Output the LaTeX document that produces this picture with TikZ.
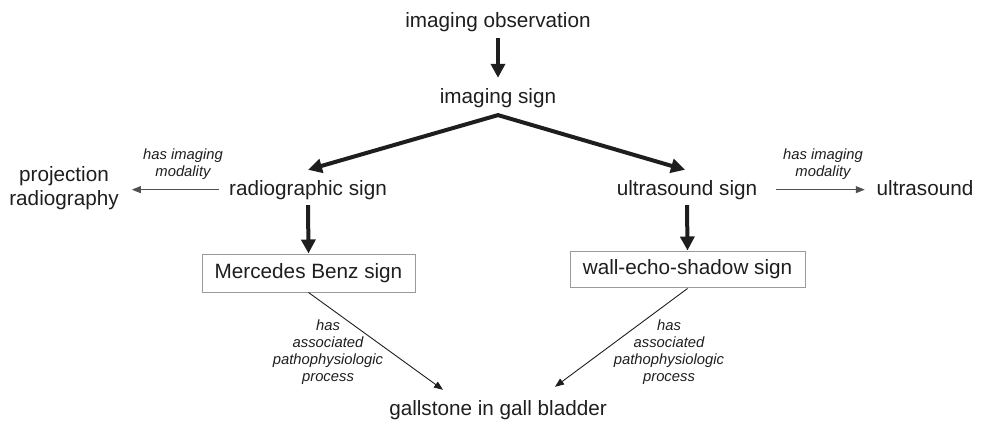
\documentclass[tikz,border=0pt]{standalone}
\usepackage{fontspec}
\setmainfont{Liberation Sans}
\usetikzlibrary{arrows.meta,calc}
\definecolor{ink}{HTML}{1E1E1E}
\definecolor{boxgray}{HTML}{9A9A9A}
\definecolor{relgray}{HTML}{505050}
\begin{document}
\begin{tikzpicture}[x=1pt,y=-1pt,
  lbl/.style={font=\fontsize{20.7}{24}\selectfont, text=ink, inner sep=0pt, anchor=base},
  lbltwo/.style={font=\fontsize{20.7}{24}\selectfont, text=ink, inner sep=0pt, align=center},
  rel/.style={font=\fontsize{14.8}{17.3}\selectfont\itshape, text=ink, inner sep=0pt, align=center},
  sbox/.style={draw=boxgray, line width=1pt, font=\fontsize{20.7}{24}\selectfont, text=ink, inner sep=0pt},
  bigarrow/.style={line width=4pt, draw=ink, -{Triangle[length=14pt,width=14pt]}},
  bigtwo/.style={line width=4pt, draw=ink, line join=miter, {Triangle[length=14pt,width=14pt]}-{Triangle[length=14pt,width=14pt]}},
  thinarrow/.style={line width=1pt, draw=relgray, -{Triangle[length=9pt,width=7pt]}, shorten >=0pt},
  diagarrow/.style={line width=0.9pt, draw=ink, -{Triangle[length=9pt,width=7pt]}}]
\useasboundingbox (0,0) rectangle (981,423);

% text nodes
\node[lbl] (obs) at (498,27) {imaging observation};
\node[lbl] (sign) at (498,103) {imaging sign};
\node[lbl] (rad) at (308,195) {radiographic sign};
\node[lbl] (us) at (687,195) {ultrasound sign};
\node[lbltwo] (proj) at (64,188.5) {projection\\radiography};
\node[lbl] (usm) at (925,195) {ultrasound};
\node[lbl] (gall) at (498,415) {gallstone in gall bladder};

% boxed signs
\node[sbox, minimum width=213pt, minimum height=38pt] (mb) at (308.5,273) {Mercedes Benz sign};
\node[sbox, minimum width=235pt, minimum height=36pt] (ws) at (687.5,269) {wall-echo-shadow sign};

% relation labels
\node[rel] (l1) at (183,164.3) {has imaging\\modality};
\node[rel] (l2) at (823,164.3) {has imaging\\modality};
\node[rel] (l3) at (328,352.2) {has\\associated\\pathophysiologic\\process};
\node[rel] (l4) at (669,352.2) {has\\associated\\pathophysiologic\\process};

% thick arrows
\draw[bigarrow] ([yshift=-6.6pt]obs.south) -- ([yshift=10pt]sign.north);
\coordinate (apex) at ([yshift=-7.6pt]sign.south);
\draw[bigtwo] ([yshift=10pt]rad.north) -- (apex) -- ([yshift=10pt,xshift=-2pt]us.north);
\draw[bigarrow] ([yshift=-5.6pt]rad.south) -- (mb.north);
\draw[bigarrow] ([yshift=-5.6pt]us.south) -- (ws.north);

% thin arrows
\draw[thinarrow] ([xshift=-10pt]rad.west) -- ($(proj.east |- rad.west)+(13,0)$);
\draw[thinarrow] ([xshift=19pt]us.east) -- ($(usm.west |- us.east)+(-11.7,0)$);
\draw[diagarrow] (mb.south) -- ([xshift=-55pt,yshift=10pt]gall.north);
\draw[diagarrow] ([yshift=-1pt]ws.south) -- ([xshift=57pt,yshift=13pt]gall.north);
\end{tikzpicture}
\end{document}
